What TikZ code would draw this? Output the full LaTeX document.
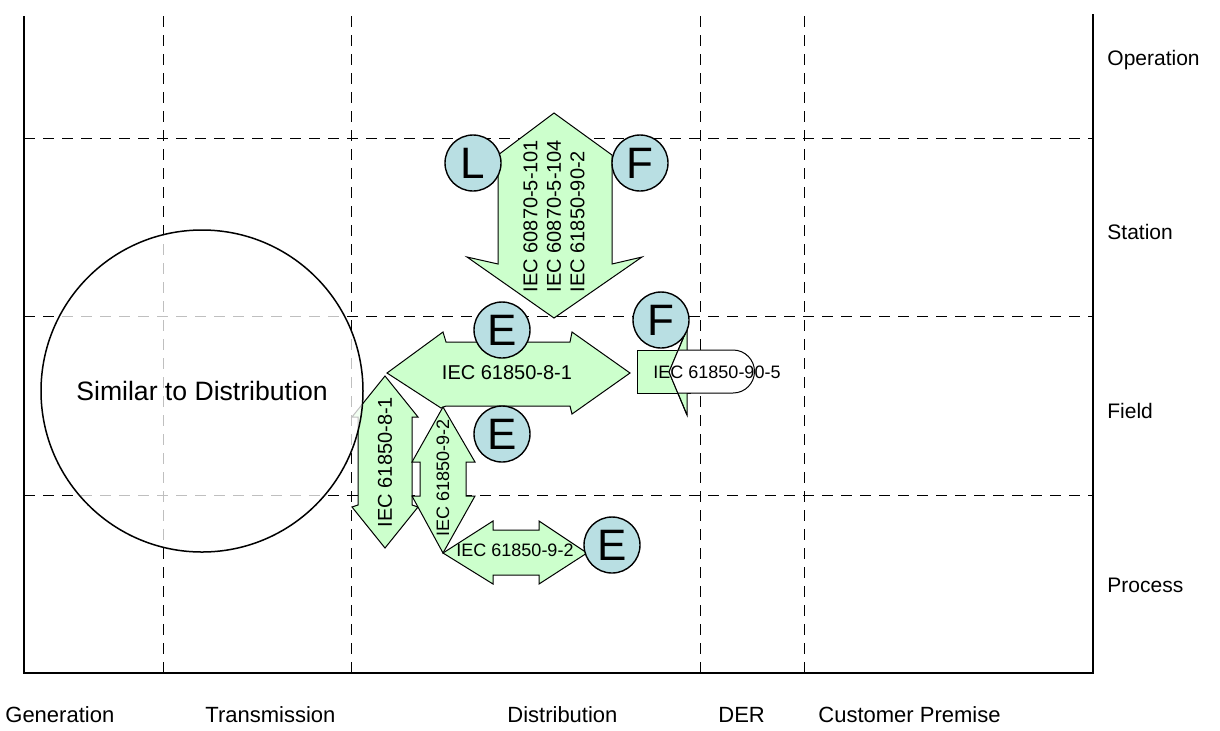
\documentclass[tikz,border=0pt]{standalone}
\usepackage{fontspec}
\setmainfont{Liberation Sans}
\definecolor{iecgreen}{RGB}{204,255,204}
\definecolor{tagblue}{RGB}{185,223,227}

\begin{document}
\begin{tikzpicture}[x=0.5pt, y=-0.5pt,
    gridline/.style={line width=0.5pt, dash pattern=on 5.5pt off 4pt},
    axisline/.style={line width=1pt},
    iec/.style={fill=iecgreen, draw=black, line width=0.5pt},
    iectext/.style={font=\fontsize{10}{11.75}\selectfont, inner sep=0pt},
    iecsmall/.style={font=\fontsize{9}{11}\selectfont, inner sep=0pt},
    tag/.style={circle, draw=black, line width=0.7pt, fill=tagblue, minimum size=28pt,
      inner sep=0pt, font=\fontsize{22}{26}\selectfont},
    lvl/.style={anchor=base west, inner sep=0pt, font=\fontsize{10.5}{12}\selectfont},
    dom/.style={anchor=base west, inner sep=0pt, font=\fontsize{11}{13}\selectfont}
  ]
    \useasboundingbox (0,0) rectangle (1220,730);

    % Zone / domain grid
    \foreach \y in {138,316,495}
      \draw[gridline] (24,\y) -- (1093,\y);
    \foreach \x in {163,351,700,804}
      \draw[gridline] (\x,16) -- (\x,673);
    \draw[axisline] (24,16) -- (24,673) -- (1093,673) -- (1093,14);

    % Zone labels
    \node[lvl] (operation) at (1107,65.5)  {Operation};
    \node[lvl] (station)   at (1107,239.5) {Station};
    \node[lvl] (field)     at (1107,418.5) {Field};
    \node[lvl] (process)   at (1107,592.5) {Process};

    % Domain labels
    \node[dom] (generation)   at (5,722)   {Generation};
    \node[dom] (transmission) at (205,722) {Transmission};
    \node[dom] (distribution) at (507,722) {Distribution};
    \node[dom] (der)          at (718,722) {DER};
    \node[dom] (customer)     at (818,722) {Customer Premise};

    % Standards arrows
    \draw[iec] (554,113) -- (612,155) -- (612,264) -- (642,257) -- (554,318)
      -- (467,257) -- (498,264) -- (498,155) -- cycle;
    \draw[iec] (387,373) -- (443,332) -- (446,342) -- (570,342) -- (572,332) -- (630,373)
      -- (572,414) -- (570,406) -- (446,406) -- (441,408) -- cycle;
    \draw[iec] (385,376) -- (418,417) -- (412,417) -- (412,505) -- (418,507) -- (385,548)
      -- (352,507) -- (358,505) -- (358,417) -- (352,417) -- cycle;
    \draw[iec] (443,407) -- (475,462) -- (466,462) -- (466,496) -- (475,496) -- (443,553)
      -- (412,496) -- (420,496) -- (420,462) -- (412,462) -- cycle;
    \draw[iec] (443,553) -- (493,521) -- (493,530) -- (539,530) -- (539,521) -- (587,553)
      -- (539,584) -- (539,575) -- (493,575) -- (493,584) -- cycle;

    % IEC 61850-90-5 callout
    \draw[iec] (637,350) rectangle (690,393);
    \draw[iec] (669,372) -- (687,329) -- (687,415) -- cycle;
    \fill[white] (678,350) -- (733,350) arc[start angle=-90, end angle=90, radius=21.5]
      -- (678,393) -- (669,372) -- cycle;
    \draw[line width=0.5pt] (678,350) -- (733,350) arc[start angle=-90, end angle=90, radius=21.5]
      -- (678,393);
    \draw[line width=0.5pt] (687,329) -- (669,372) -- (687,415);

    \node[iectext, rotate=90, align=left] (iec60870) at (554,216)
      {IEC 60870-5-101\\IEC 60870-5-104\\IEC 61850-90-2};
    \node[iectext] (iec881h) at (507,373) {IEC 61850-8-1};
    \node[iectext, rotate=90] (iec881v) at (385,462) {IEC 61850-8-1};
    \node[iecsmall, rotate=90] (iec992v) at (443,478) {IEC 61850-9-2};
    \node[iecsmall] (iec992h) at (515,550) {IEC 61850-9-2};
    \node[iecsmall] (iec905) at (717,372) {IEC 61850-90-5};

    % Tags
    \node[tag] (tagL)  at (473,163) {L};
    \node[tag] (tagF1) at (640,163) {F};
    \node[tag] (tagE1) at (502,330) {E};
    \node[tag] (tagF2) at (661,320) {F};
    \node[tag] (tagE2) at (502,434) {E};
    \node[tag] (tagE3) at (612,545) {E};

    % Transmission bubble
    \node[circle, draw=black, line width=0.75pt, fill=white, fill opacity=0.75, text opacity=1,
      minimum size=161pt, inner sep=0pt, font=\fontsize{13.3}{16}\selectfont]
      (similar) at (202,391) {Similar to Distribution};
  \end{tikzpicture}
\end{document}
